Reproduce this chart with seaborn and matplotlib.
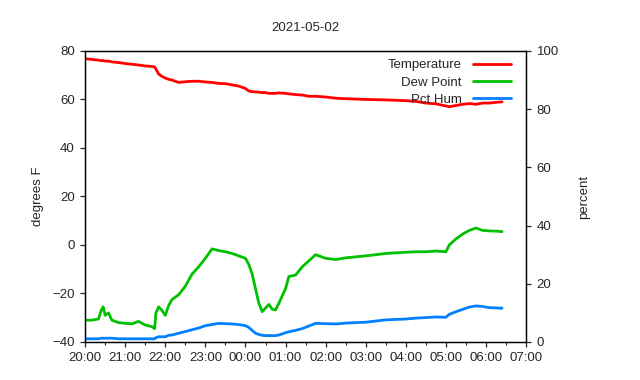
import pandas as pd
import numpy as np
import matplotlib
matplotlib.use("Agg")
import matplotlib.pyplot as plt
import matplotlib.dates as mdates
import seaborn as sns

# 数据：分钟（从 20:00 起），温度 / 露点 / 湿度
minutes = [0, 10, 20, 24, 27, 30, 35, 40, 50, 60, 70, 80, 90, 100, 104, 106, 110, 115, 120,
           125, 130, 140, 150, 160, 170, 180, 190, 200, 210, 220, 230, 240, 245, 250, 255,
           260, 265, 270, 275, 280, 285, 290, 300, 305, 315, 325, 335, 345, 360, 375, 390,
           420, 450, 480, 495, 510, 525, 540, 545, 555, 565, 575, 585, 595, 605, 615, 624]
temperature = [76.8, 76.5, 76.2, 76.0, 76.0, 75.8, 75.8, 75.5, 75.2, 74.8, 74.5, 74.2, 73.8,
               73.6, 73.4, 72.5, 70.5, 69.5, 68.8, 68.3, 68.0, 67.0, 67.3, 67.5, 67.5, 67.2,
               67.0, 66.6, 66.5, 66.0, 65.5, 64.5, 63.5, 63.2, 63.1, 63.0, 62.8, 62.8, 62.5,
               62.5, 62.5, 62.7, 62.5, 62.3, 62.0, 61.8, 61.3, 61.3, 61.0, 60.5, 60.3, 60.0,
               59.8, 59.5, 59.2, 58.5, 58.2, 57.3, 57.0, 57.5, 58.0, 58.3, 58.0, 58.5, 58.5,
               58.8, 59.0]
dew_point = [-31.0, -31.0, -30.5, -27.0, -25.5, -29.0, -28.0, -31.0, -32.0, -32.3, -32.5, -31.5,
             -33.0, -33.7, -34.5, -28.0, -25.5, -27.0, -29.0, -25.0, -22.5, -20.5, -17.0, -12.0,
             -9.0, -5.5, -1.6, -2.3, -2.8, -3.5, -4.5, -5.5, -8.0, -12.0, -18.0, -24.0, -27.5,
             -26.0, -24.5, -26.5, -26.8, -24.0, -18.0, -13.0, -12.4, -9.0, -6.5, -4.0, -5.5,
             -6.0, -5.3, -4.5, -3.5, -3.0, -2.8, -2.8, -2.5, -2.8, 0.0, 2.5, 4.5, 6.0, 7.0, 6.0,
             5.8, 5.7, 5.5]
pct_hum = [1.1, 1.1, 1.1, 1.3, 1.3, 1.3, 1.3, 1.3, 1.1, 1.1, 1.1, 1.1, 1.1, 1.1, 1.1, 1.5,
           1.8, 1.8, 1.8, 2.3, 2.4, 3.0, 3.6, 4.2, 4.8, 5.6, 6.0, 6.4, 6.3, 6.2, 6.0, 5.6, 5.0,
           4.0, 3.0, 2.6, 2.3, 2.2, 2.2, 2.2, 2.2, 2.4, 3.2, 3.5, 4.0, 4.6, 5.5, 6.4, 6.3, 6.2,
           6.5, 6.8, 7.6, 7.9, 8.2, 8.4, 8.6, 8.5, 9.5, 10.4, 11.2, 12.0, 12.4, 12.2, 11.8, 11.7,
           11.6]

start = pd.Timestamp("2021-05-01 20:00")
times = start + pd.to_timedelta(minutes, unit="m")
df = pd.DataFrame({"time": times, "temp": temperature, "dew": dew_point, "hum": pct_hum})

sns.set_style("ticks")
plt.rcParams["font.family"] = ["Liberation Sans", "DejaVu Sans"]
fs = 9.5
plt.rcParams["font.size"] = fs

fig = plt.figure(figsize=(6.4, 3.8), dpi=100)
ax = fig.add_axes([0.133, 0.1, 0.689, 0.766])
ax2 = ax.twinx()

sns.lineplot(data=df, x="time", y="temp", ax=ax, color="#ff0000", lw=2.0,
             label="Temperature", legend=False)
sns.lineplot(data=df, x="time", y="dew", ax=ax, color="#00c000", lw=2.0,
             label="Dew Point", legend=False)
sns.lineplot(data=df, x="time", y="hum", ax=ax2, color="#0080ff", lw=2.0,
             label="Pct Hum", legend=False)

ax.set_xlim(start, start + pd.Timedelta(hours=11))
ax.set_ylim(-40, 80)
ax2.set_ylim(0, 100)
ax.set_yticks(range(-40, 81, 20))
ax2.set_yticks(range(0, 101, 20))
ax.xaxis.set_major_locator(mdates.HourLocator())
ax.xaxis.set_minor_locator(mdates.MinuteLocator(byminute=[30]))
ax.xaxis.set_major_formatter(mdates.DateFormatter("%H:%M"))

for a in (ax, ax2):
    for s in a.spines.values():
        s.set_visible(True)
        s.set_linewidth(0.9)
        s.set_color("black")
    a.tick_params(which="major", direction="out", length=3.5, width=0.9, labelsize=fs, pad=4)
    a.tick_params(which="minor", direction="out", length=2, width=0.8)

ax.set_xlabel("")
ax.set_ylabel("degrees F", fontsize=fs, labelpad=6)
ax2.set_ylabel("percent", fontsize=fs, labelpad=14)
ax.set_title("2021-05-02", fontsize=fs, pad=14)

h1, l1 = ax.get_legend_handles_labels()
h2, l2 = ax2.get_legend_handles_labels()
ax2.legend(h1 + h2, l1 + l2, loc="upper right", bbox_to_anchor=(0.966, 0.972),
           frameon=False, markerfirst=False, borderpad=0, borderaxespad=0,
           handlelength=2.9, handletextpad=0.85, labelspacing=0.38, fontsize=fs)

fig.savefig("out.png", dpi=100)
